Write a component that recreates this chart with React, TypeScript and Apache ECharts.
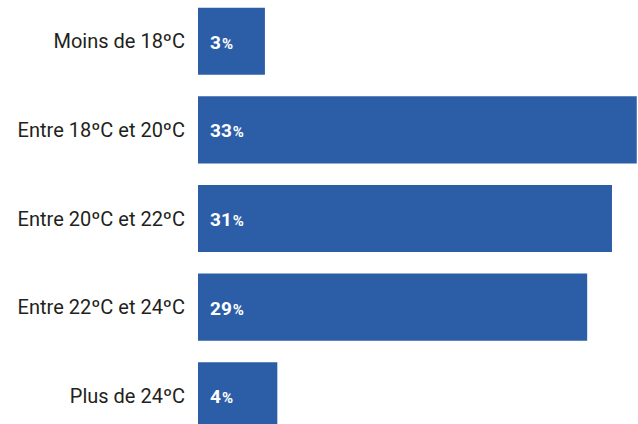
import React, { useEffect, useRef } from "react";
import * as echarts from "echarts";

const categories = [
  "Moins de 18ºC",
  "Entre 18ºC et 20ºC",
  "Entre 20ºC et 22ºC",
  "Entre 22ºC et 24ºC",
  "Plus de 24ºC",
];
const values = [3, 33, 31, 29, 4];
const axisMin = -2.4;
const axisMax = 33.1;
const barColor = "#2c5ea8";

export default function App() {
  const ref = useRef<HTMLDivElement>(null);
  useEffect(() => {
    if (!ref.current) return;
    const chart = echarts.init(ref.current, null, { renderer: "svg" });
    chart.setOption({
      animation: false,
      grid: {
        left: 198,
        right: 0,
        top: -3,
        height: 443,
        containLabel: false,
        outerBoundsMode: "none",
      },
      xAxis: {
        type: "value",
        min: axisMin,
        max: axisMax,
        show: false,
      },
      yAxis: {
        type: "category",
        data: categories,
        inverse: true,
        axisLine: { show: false },
        axisTick: { show: false },
        axisLabel: {
          margin: 13,
          color: "#231f20",
          fontSize: 20,
          fontFamily: "Roboto",
        },
      },
      series: [
        {
          type: "custom",
          clip: false,
          data: values.map((v, i) => [v, i]),
          encode: { x: 0, y: 1 },
          renderItem: (params: any, api: any) => {
            const v = api.value(0);
            const c = api.value(1);
            const start = api.coord([axisMin, c]);
            const end = api.coord([v, c]);
            const h = api.size([0, 1])[1] * 0.757;
            return {
              type: "group",
              children: [
                {
                  type: "rect",
                  shape: { x: start[0], y: end[1] - h / 2, width: end[0] - start[0], height: h },
                  style: { fill: barColor },
                },
                {
                  type: "text",
                  x: start[0] + 12,
                  y: end[1] + 1,
                  style: {
                    text: "{a|" + v + "}{b|%}",
                    fill: "#ffffff",
                    verticalAlign: "middle",
                    align: "left",
                    rich: {
                      a: { fontSize: 19, fontWeight: "bold", fill: "#ffffff", fontFamily: "Roboto" },
                      b: { fontSize: 15, fontWeight: "bold", fill: "#ffffff", fontFamily: "Roboto", padding: [3, 0, 0, 1] },
                    },
                  },
                },
              ],
            };
          },
        },
      ],
    });
    return () => chart.dispose();
  }, []);
  return <div ref={ref} style={{ width: 638, height: 424, position: "absolute", left: 0, top: 0 }} />;
}
